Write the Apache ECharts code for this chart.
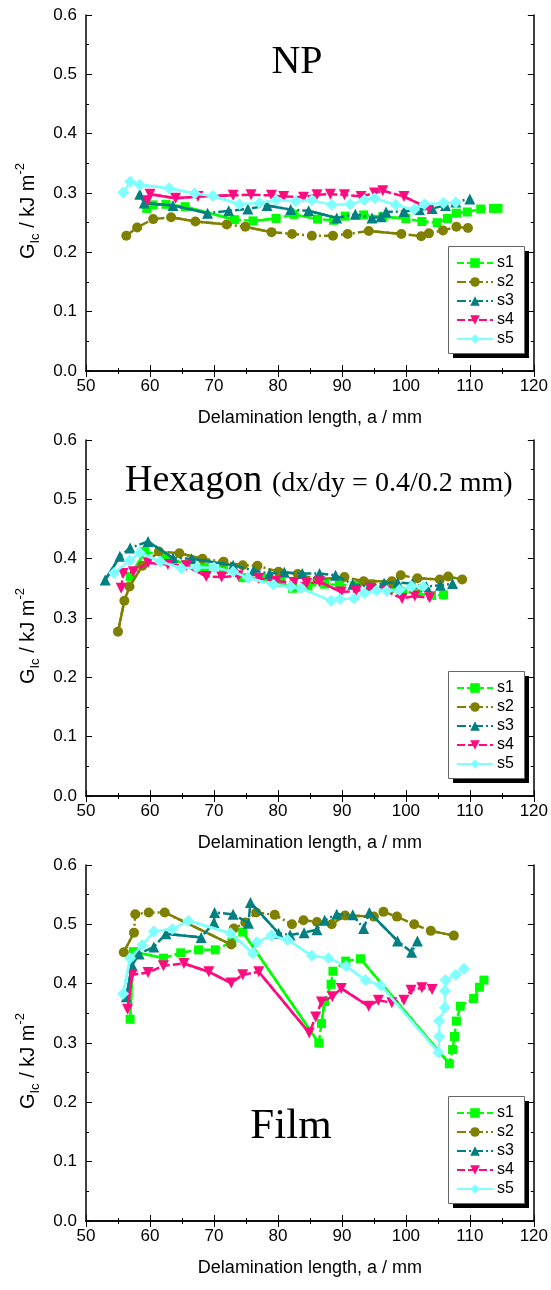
<!DOCTYPE html>
<html>
<head>
<meta charset="utf-8">
<script src="https://cdn.jsdelivr.net/npm/echarts@6/dist/echarts.min.js"></script>
<style>
  html, body { margin: 0; padding: 0; background: #fff; }
  #chart { width: 551px; height: 1290px; }
</style>
</head>
<body>
<div id="chart"></div>
<script>
// series names and tick values
var seriesNames = ['s1', 's2', 's3', 's4', 's5']
var xTicks = [50, 60, 70, 80, 90, 100, 110, 120]
var yTicks = [0, 0.1, 0.2, 0.3, 0.4, 0.5, 0.6]

// NP panel, [a (mm), GIc (kJ/m2)]
var npS1 = [[59.5, 0.274], [60.5, 0.280], [62.5, 0.281], [65.5, 0.277], [73.2, 0.255], [76.1, 0.253], [79.7, 0.257], [82.5, 0.264], [86.2, 0.256], [88.7, 0.254], [90.5, 0.261], [93.4, 0.263], [96.4, 0.260], [100.0, 0.257], [102.5, 0.252], [104.9, 0.250], [106.5, 0.257], [107.9, 0.266], [109.6, 0.268], [111.7, 0.273], [113.7, 0.274], [114.4, 0.274]]
var npS2 = [[56.3, 0.228], [58.0, 0.242], [60.5, 0.256], [63.3, 0.259], [67.1, 0.252], [72.0, 0.247], [74.9, 0.243], [79.0, 0.234], [82.2, 0.231], [85.3, 0.228], [88.6, 0.228], [90.9, 0.231], [94.2, 0.236], [99.3, 0.231], [102.4, 0.227], [103.6, 0.232], [105.8, 0.237], [107.9, 0.243], [109.7, 0.241]]
var npS3 = [[58.4, 0.298], [59.1, 0.283], [63.6, 0.279], [69.0, 0.266], [72.3, 0.270], [75.3, 0.273], [78.3, 0.279], [82.0, 0.272], [84.8, 0.270], [89.2, 0.258], [92.1, 0.264], [94.7, 0.258], [96.1, 0.260], [96.9, 0.268], [99.7, 0.269], [102.1, 0.272], [104.1, 0.274], [106.2, 0.279], [107.8, 0.285], [110.0, 0.290]]
var npS4 = [[59.6, 0.287], [60.0, 0.298], [64.0, 0.291], [67.5, 0.294], [73.0, 0.296], [75.8, 0.297], [79.0, 0.296], [80.9, 0.294], [84.0, 0.293], [86.1, 0.297], [88.2, 0.298], [90.4, 0.297], [93.0, 0.294], [95.1, 0.300], [96.4, 0.304], [99.7, 0.294], [103.6, 0.274]]
var npS5 = [[55.8, 0.301], [56.9, 0.319], [58.4, 0.314], [63.0, 0.308], [67.0, 0.299], [69.8, 0.295], [74.0, 0.281], [77.1, 0.283], [79.7, 0.288], [82.8, 0.286], [85.3, 0.288], [88.4, 0.280], [91.3, 0.281], [93.5, 0.288], [95.1, 0.291], [98.4, 0.280], [101.3, 0.272], [102.9, 0.281], [105.9, 0.283], [107.8, 0.284]]

// Hexagon panel
var hexS1 = [[56.9, 0.370], [59.2, 0.412], [62.3, 0.405], [65.6, 0.390], [68.5, 0.385], [71.5, 0.382], [74.5, 0.368], [77.5, 0.367], [80.5, 0.360], [82.3, 0.350], [84.7, 0.354], [87.3, 0.357], [89.6, 0.356], [92.0, 0.355], [94.5, 0.358], [97.5, 0.350], [99.5, 0.345], [101.8, 0.341], [104.0, 0.338], [105.9, 0.339]]
var hexS2 = [[55.0, 0.277], [56.0, 0.329], [56.8, 0.353], [58.8, 0.388], [61.4, 0.412], [64.6, 0.409], [68.2, 0.400], [71.5, 0.395], [74.5, 0.389], [76.8, 0.388], [80.1, 0.378], [83.1, 0.374], [86.2, 0.365], [90.4, 0.369], [93.4, 0.362], [97.8, 0.362], [99.2, 0.372], [101.8, 0.367], [105.3, 0.365], [106.6, 0.370], [108.8, 0.365]]
var hexS3 = [[53.0, 0.364], [55.3, 0.404], [56.9, 0.418], [59.7, 0.429], [63.6, 0.401], [66.5, 0.400], [73.0, 0.389], [76.2, 0.380], [78.7, 0.375], [81.0, 0.377], [83.8, 0.375], [86.5, 0.375], [89.0, 0.372], [91.7, 0.357], [94.3, 0.353], [96.6, 0.359], [98.7, 0.360], [101.0, 0.358], [103.2, 0.353], [105.4, 0.355], [107.3, 0.358]]
var hexS4 = [[55.5, 0.350], [55.8, 0.375], [57.4, 0.378], [59.7, 0.393], [62.8, 0.390], [65.7, 0.388], [68.8, 0.370], [71.2, 0.369], [73.8, 0.371], [77.0, 0.367], [79.7, 0.362], [82.5, 0.360], [84.5, 0.358], [86.5, 0.361], [89.9, 0.344], [92.2, 0.345], [94.5, 0.350], [97.0, 0.345], [99.4, 0.333], [101.4, 0.337], [103.7, 0.334]]
var hexS5 = [[54.4, 0.376], [56.8, 0.397], [58.4, 0.410], [61.6, 0.395], [64.9, 0.384], [67.3, 0.385], [70.0, 0.385], [73.0, 0.378], [75.3, 0.368], [79.3, 0.356], [82.0, 0.353], [83.6, 0.350], [88.3, 0.329], [89.7, 0.332], [91.9, 0.333], [93.5, 0.342], [95.4, 0.346], [97.0, 0.346], [99.0, 0.347], [100.9, 0.353], [102.7, 0.353]]

// Film panel
var filmS1 = [[56.9, 0.340], [57.4, 0.454], [62.1, 0.443], [64.8, 0.452], [67.6, 0.457], [70.2, 0.457], [72.8, 0.470], [74.5, 0.487], [86.4, 0.300], [86.8, 0.333], [87.3, 0.370], [88.3, 0.399], [88.6, 0.421], [90.6, 0.438], [92.9, 0.442], [106.8, 0.265], [107.3, 0.289], [107.6, 0.311], [107.9, 0.337], [108.5, 0.362], [110.6, 0.375], [111.5, 0.394], [112.2, 0.406]]
var filmS2 = [[55.9, 0.453], [57.5, 0.486], [57.7, 0.517], [59.8, 0.520], [62.3, 0.520], [72.7, 0.466], [73.1, 0.493], [74.9, 0.503], [76.6, 0.520], [79.5, 0.516], [82.2, 0.500], [84.0, 0.507], [86.1, 0.504], [88.4, 0.500], [90.5, 0.515], [95.0, 0.513], [96.5, 0.521], [98.6, 0.513], [101.3, 0.500], [103.9, 0.489], [107.5, 0.481]]
var filmS3 = [[56.3, 0.378], [57.2, 0.431], [58.3, 0.450], [60.6, 0.462], [62.5, 0.484], [68.0, 0.478], [70.0, 0.503], [70.1, 0.520], [73.0, 0.517], [75.4, 0.502], [75.7, 0.537], [80.1, 0.485], [81.9, 0.482], [84.1, 0.486], [86.1, 0.491], [87.3, 0.507], [89.2, 0.517], [91.7, 0.516], [93.4, 0.493], [94.3, 0.520], [98.7, 0.472], [100.9, 0.453], [101.8, 0.472]]
var filmS4 = [[56.5, 0.357], [57.2, 0.415], [59.7, 0.419], [62.1, 0.430], [65.3, 0.434], [69.2, 0.420], [72.7, 0.401], [74.5, 0.415], [77.0, 0.420], [84.9, 0.317], [85.9, 0.344], [86.8, 0.369], [88.5, 0.378], [89.9, 0.392], [94.2, 0.362], [95.7, 0.372], [97.8, 0.368], [99.7, 0.372], [100.8, 0.389], [102.5, 0.393], [104.1, 0.390]]
var filmS5 = [[55.8, 0.383], [56.9, 0.443], [58.8, 0.465], [60.6, 0.488], [63.5, 0.492], [66.0, 0.506], [72.6, 0.485], [76.1, 0.451], [76.7, 0.470], [79.0, 0.481], [81.5, 0.474], [85.3, 0.447], [87.9, 0.443], [90.6, 0.430], [93.7, 0.406], [96.1, 0.397], [105.1, 0.284], [105.2, 0.311], [105.2, 0.337], [106.1, 0.360], [106.1, 0.388], [106.2, 0.406], [107.8, 0.415], [109.1, 0.425]]

var chart = echarts.init(document.getElementById('chart'))

var colors = ['#00FF00', '#808000', '#008080', '#FF0A7F', '#80FFFF']
var symbols = ['rect', 'circle', 'triangle', 'triangle', 'diamond']
var symbolSizes = [9, 10, 11, 11, 12]
var symbolRotates = [0, 0, 0, 180, 0]
var dashes = [[7, 3], [9, 3, 2, 3], [9, 3, 2, 3], [8, 3], 'solid']

var panels = [
  { top: 15, data: [npS1, npS2, npS3, npS4, npS5] },
  { top: 440, data: [hexS1, hexS2, hexS3, hexS4, hexS5] },
  { top: 865, data: [filmS1, filmS2, filmS3, filmS4, filmS5] }
]
var plotH = 356
var legW = 76
var legH = 107

var font = 'Liberation Sans'
var serif = 'Liberation Serif'
var grid = []
var xAxis = []
var yAxis = []
var series = []
var legend = []
var graphic = []

function axisBase(min, max, interval) {
  return {
    type: 'value',
    min: min,
    max: max,
    interval: interval,
    splitLine: { show: false },
    axisLine: { show: true, lineStyle: { color: '#000', width: 1.5 } },
    axisTick: { show: true, inside: true, length: 6, lineStyle: { color: '#000', width: 1 } },
    minorTick: { show: true, splitNumber: 2, length: 3, lineStyle: { color: '#000', width: 1 } }
  }
}

panels.forEach(function(p, i) {
  grid.push({ left: 86, right: 16, top: p.top, height: plotH, containLabel: false })

  var xb = axisBase(xTicks[0], xTicks[xTicks.length - 1], 10)
  xb.gridIndex = i
  xb.position = 'bottom'
  xb.name = 'Delamination length, a / mm'
  xb.nameLocation = 'middle'
  xb.nameGap = 38
  xb.nameTextStyle = { fontFamily: font, fontSize: 18, color: '#000' }
  xb.axisLabel = { margin: 7, fontFamily: font, fontSize: 17, color: '#000' }
  xAxis.push(xb)

  var xt = axisBase(xTicks[0], xTicks[xTicks.length - 1], 10)
  xt.gridIndex = i
  xt.position = 'top'
  xt.axisLabel = { show: false }
  xAxis.push(xt)

  var yl = axisBase(yTicks[0], yTicks[yTicks.length - 1], 0.1)
  yl.gridIndex = i
  yl.position = 'left'
  yl.axisLabel = {
    margin: 9, fontFamily: font, fontSize: 17, color: '#000',
    formatter: function(v) { return v.toFixed(1) }
  }
  yAxis.push(yl)

  var yr = axisBase(yTicks[0], yTicks[yTicks.length - 1], 0.1)
  yr.gridIndex = i
  yr.position = 'right'
  yr.axisLabel = { show: false }
  yAxis.push(yr)

  p.data.forEach(function(d, k) {
    series.push({
      type: 'line',
      name: seriesNames[k],
      xAxisIndex: 2 * i,
      yAxisIndex: 2 * i,
      data: d,
      symbol: symbols[k],
      symbolSize: symbolSizes[k],
      symbolRotate: symbolRotates[k],
      showAllSymbol: true,
      lineStyle: { color: colors[k], width: 2.5, type: dashes[k] },
      itemStyle: { color: colors[k] },
      z: 3 + 2 * k
    })
  })

  // legend frame with drop shadow
  graphic.push({
    type: 'rect', z: 20, silent: true,
    shape: { x: 453, y: p.top + 236, width: legW, height: legH },
    style: { fill: '#000' }
  })
  graphic.push({
    type: 'rect', z: 21, silent: true,
    shape: { x: 448.5, y: p.top + 231.5, width: legW, height: legH },
    style: { fill: '#fff', stroke: '#666', lineWidth: 1 }
  })

  legend.push({
    data: seriesNames,
    orient: 'vertical',
    left: 448,
    top: p.top + 231,
    z: 30,
    itemWidth: 36,
    itemHeight: 12,
    itemGap: 3,
    padding: [9, 12, 7, 8],
    selectedMode: false,
    textStyle: { fontFamily: font, fontSize: 16, color: '#000', padding: [0, 0, 0, -1] }
  })

  // y axis name
  graphic.push({
    type: 'text',
    x: 28,
    y: p.top + 196,
    rotation: Math.PI / 2,
    style: {
      text: '{a|G}{b|Ic}{a| / kJ m}{c|-2}',
      align: 'center',
      verticalAlign: 'middle',
      fill: '#000',
      rich: {
        a: { fontFamily: font, fontSize: 20, lineHeight: 28, verticalAlign: 'middle' },
        b: { fontFamily: font, fontSize: 13, lineHeight: 13, verticalAlign: 'bottom' },
        c: { fontFamily: font, fontSize: 13, lineHeight: 13, verticalAlign: 'top' }
      }
    }
  })
})

graphic.push({
  type: 'text', x: 297, y: 62,
  style: { text: 'NP', font: '40px "' + serif + '"', fill: '#000', align: 'center', verticalAlign: 'middle' }
})
graphic.push({
  type: 'text', x: 125, y: 481,
  style: { text: 'Hexagon', font: '38px "' + serif + '"', fill: '#000', align: 'left', verticalAlign: 'middle' }
})
graphic.push({
  type: 'text', x: 272, y: 484,
  style: { text: '(dx/dy = 0.4/0.2 mm)', font: '28px "' + serif + '"', fill: '#000', align: 'left', verticalAlign: 'middle' }
})
graphic.push({
  type: 'text', x: 291, y: 1127,
  style: { text: 'Film', font: '43px "' + serif + '"', fill: '#000', align: 'center', verticalAlign: 'middle' }
})

chart.setOption({
  animation: false,
  backgroundColor: '#fff',
  grid: grid,
  xAxis: xAxis,
  yAxis: yAxis,
  legend: legend,
  graphic: graphic,
  series: series
})

// long connecting segments are drawn solid in the original plot
var solidSeries = []
panels.forEach(function(p, i) {
  p.data.forEach(function(d, k) {
    var segs = []
    for (var j = 0; j + 1 < d.length; j++) {
      var a = chart.convertToPixel({ gridIndex: i }, d[j])
      var b = chart.convertToPixel({ gridIndex: i }, d[j + 1])
      var len = Math.sqrt((a[0] - b[0]) * (a[0] - b[0]) + (a[1] - b[1]) * (a[1] - b[1]))
      if (len > 22) {
        segs.push(d[j], d[j + 1], '-')
      }
    }
    if (segs.length) {
      solidSeries.push({
        type: 'line',
        xAxisIndex: 2 * i,
        yAxisIndex: 2 * i,
        data: segs,
        symbol: 'none',
        silent: true,
        connectNulls: false,
        lineStyle: { color: colors[k], width: 2.5, type: 'solid' },
        z: 2 + 2 * k
      })
    }
  })
})
chart.setOption({ series: series.concat(solidSeries) })
</script>
</body>
</html>
